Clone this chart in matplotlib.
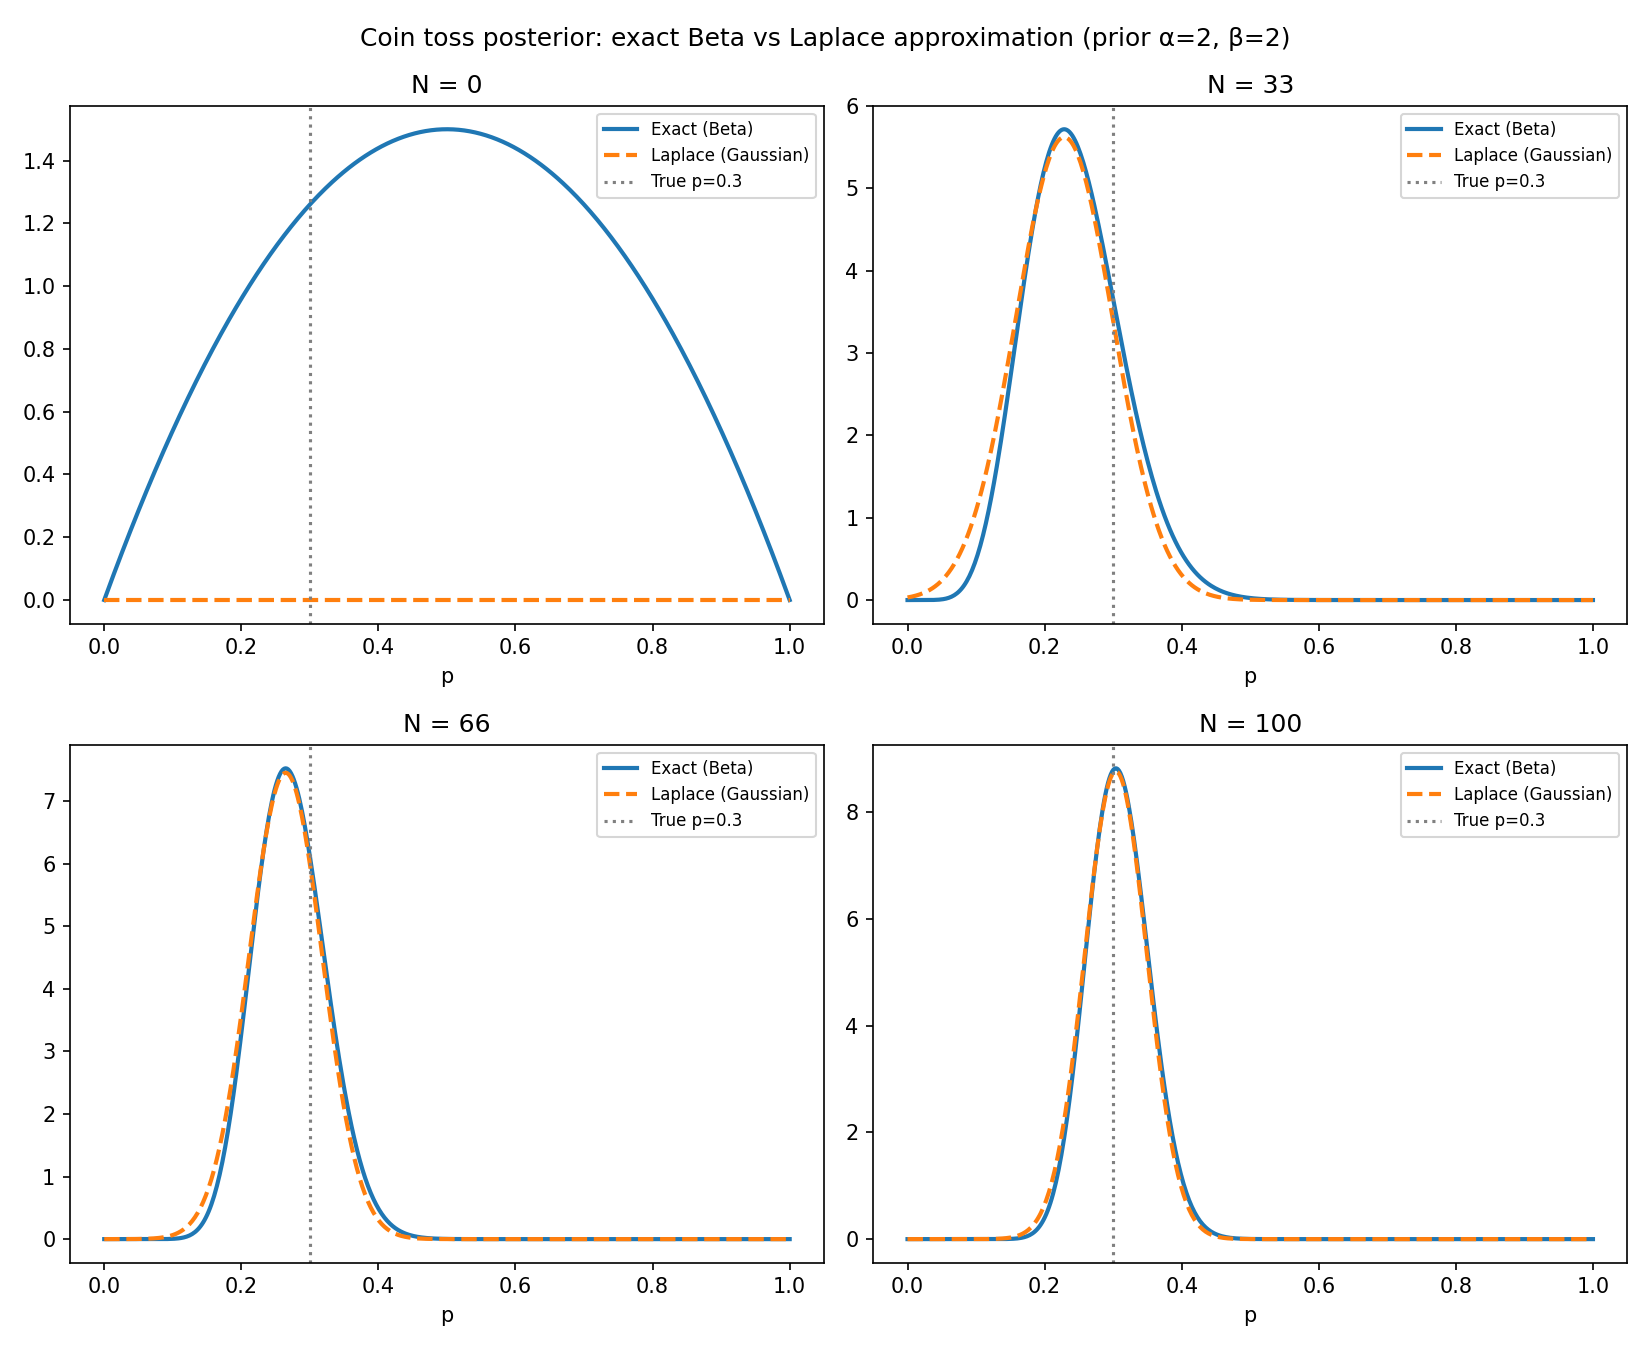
import numpy as np
import matplotlib.pyplot as plt
from math import lgamma

# prior and observed data (tosses so far, heads among them)
alpha0 = 2
beta0 = 2
true_p = 0.3
n_tosses = [0, 33, 66, 100]
n_heads = [0, 7, 17, 30]

p = np.linspace(0, 1, 500)


def beta_pdf(x, a, b):
    logc = lgamma(a + b) - lgamma(a) - lgamma(b)
    with np.errstate(divide="ignore"):
        out = np.exp(logc + (a - 1) * np.log(x) + (b - 1) * np.log(1 - x))
    return np.nan_to_num(out)


def laplace_pdf(x, a, b, n):
    # no data -> no approximation drawn (flat zero line)
    if n == 0:
        return np.zeros_like(x)
    mode = (a - 1) / (a + b - 2)
    prec = (a - 1) / mode**2 + (b - 1) / (1 - mode) ** 2
    sd = 1 / np.sqrt(prec)
    return np.exp(-0.5 * ((x - mode) / sd) ** 2) / (sd * np.sqrt(2 * np.pi))


fig, axes = plt.subplots(2, 2, figsize=(11, 9), dpi=150)

for ax, n, h in zip(axes.flat, n_tosses, n_heads):
    a = alpha0 + h
    b = beta0 + n - h
    ax.plot(p, beta_pdf(p, a, b), color="tab:blue", lw=2, label="Exact (Beta)")
    ax.plot(p, laplace_pdf(p, a, b, n), color="tab:orange", lw=2, ls="--",
            label="Laplace (Gaussian)")
    ax.axvline(true_p, color="gray", ls=":", lw=1.5, label="True p=0.3")
    ax.set_title(f"N = {n}")
    ax.set_xlabel("p")
    ax.legend(loc="upper right", fontsize=8)

fig.suptitle("Coin toss posterior: exact Beta vs Laplace approximation (prior α=2, β=2)")
fig.subplots_adjust(left=0.0424, right=0.9862, top=0.9217, bottom=0.0647,
                    wspace=0.0654, hspace=0.234)
fig.savefig("out.png")
